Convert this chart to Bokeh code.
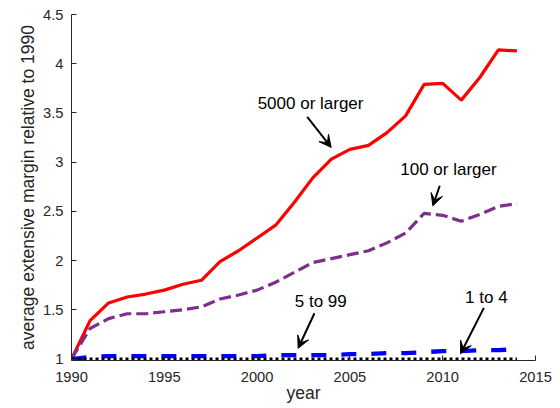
from bokeh.plotting import figure
from bokeh.models import ColumnDataSource, Arrow, VeeHead, FixedTicker, Range1d
from bokeh.core.properties import value
from bokeh.embed import file_html
from bokeh.resources import INLINE

years = list(range(1990, 2015))
large5000 = [1.00, 1.39, 1.57, 1.63, 1.66, 1.70, 1.76, 1.80, 1.99, 2.10,
             2.23, 2.36, 2.59, 2.84, 3.03, 3.13, 3.17, 3.30, 3.47, 3.79,
             3.80, 3.63, 3.86, 4.14, 4.13]
large100 = [1.00, 1.31, 1.41, 1.46, 1.46, 1.48, 1.50, 1.53, 1.61, 1.65,
            1.70, 1.78, 1.88, 1.98, 2.02, 2.06, 2.10, 2.18, 2.28, 2.48,
            2.46, 2.40, 2.47, 2.55, 2.58]
mid5_99 = [1.00, 1.02, 1.03, 1.03, 1.03, 1.03, 1.03, 1.03, 1.03, 1.03,
           1.03, 1.04, 1.04, 1.04, 1.04, 1.05, 1.05, 1.06, 1.06, 1.07,
           1.08, 1.08, 1.09, 1.09, 1.10]
small1_4 = [1.00] * 25

x_ticks = [1990, 1995, 2000, 2005, 2010, 2015]
y_ticks = [1, 1.5, 2, 2.5, 3, 3.5, 4, 4.5]

# annotation labels and arrow positions (data coordinates)
ann_text = ["5000 or larger", "100 or larger", "5 to 99", "1 to 4"]
ann_tx = [2002.88, 2010.31, 2003.43, 2012.35]
ann_ty = [3.60, 2.93, 1.58, 1.63]
arr_x0 = [2002.70, 2009.84, 2003.09, 2012.22]
arr_y0 = [3.46, 2.76, 1.465, 1.52]
arr_x1 = [2003.99, 2009.47, 2002.21, 2010.96]
arr_y1 = [3.15, 2.556, 1.109, 1.054]

FONT = "Liberation Sans"
AX = "#262626"

p = figure(width=556, height=408, output_backend="svg", toolbar_location=None,
           x_range=Range1d(1990, 2015), y_range=Range1d(0.985, 4.5),
           min_border_left=71, min_border_right=21, min_border_top=14,
           min_border_bottom=48)
p.outline_line_color = None
p.xgrid.visible = False
p.ygrid.visible = False
p.background_fill_color = "white"

src = ColumnDataSource(dict(x=years, a=large5000, b=large100, c=mid5_99, d=small1_4))
p.line("x", "a", source=src, line_color="#ff0000", line_width=3.2)
p.line("x", "b", source=src, line_color="#7e2f8e", line_width=3.2, line_dash="12 5")
p.line("x", "c", source=src, line_color="#0000ff", line_width=4.3, line_dash="15 15")
p.line("x", "d", source=src, line_color="black", line_width=3.2, line_dash="3 3")

tsrc = ColumnDataSource(dict(x=ann_tx, y=ann_ty, t=ann_text))
p.text("x", "y", text="t", source=tsrc, text_font=value(FONT), text_font_size="17px",
       text_align="center", text_baseline="middle", text_color="black")

asrc = ColumnDataSource(dict(x0=arr_x0, y0=arr_y0, x1=arr_x1, y1=arr_y1))
p.add_layout(Arrow(x_start="x0", y_start="y0", x_end="x1", y_end="y1", source=asrc,
                   line_color="black", line_width=2,
                   end=VeeHead(size=12, fill_color="black", line_color="black", line_width=1)))

for ax in (p.xaxis[0], p.yaxis[0]):
    ax.axis_line_color = AX
    ax.axis_line_width = 1
    ax.major_tick_line_color = AX
    ax.major_tick_in = 5
    ax.major_tick_out = 0
    ax.minor_tick_line_color = None
    ax.major_label_text_font = FONT
    ax.major_label_text_font_size = "14.7px"
    ax.major_label_text_color = AX
    ax.axis_label_text_font = FONT
    ax.axis_label_text_font_size = "17.5px"
    ax.axis_label_text_font_style = "normal"
    ax.axis_label_text_color = AX

p.xaxis.ticker = FixedTicker(ticks=x_ticks)
p.yaxis.ticker = FixedTicker(ticks=y_ticks)
p.yaxis.major_label_overrides = {1: "1", 1.5: "1.5", 2: "2", 2.5: "2.5", 3: "3", 3.5: "3.5", 4: "4", 4.5: "4.5"}
p.xaxis.axis_label = "year"
p.yaxis.axis_label = "average extensive margin relative to 1990"
p.xaxis.major_label_standoff = 11
p.yaxis.major_label_standoff = 8
p.xaxis.axis_label_standoff = -2
p.yaxis.axis_label_standoff = 2

open("out.html", "w").write(file_html(p, INLINE))
